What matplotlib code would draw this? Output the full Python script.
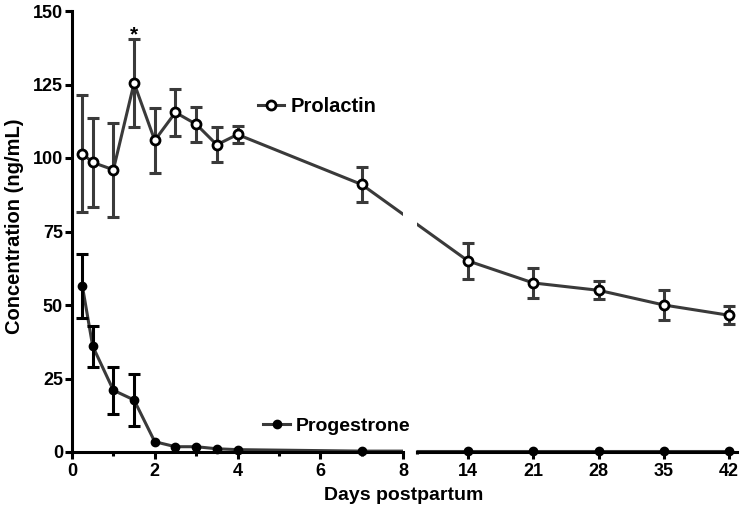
import matplotlib
matplotlib.use('Agg')
import matplotlib.pyplot as plt
from matplotlib.lines import Line2D
import numpy as np

plt.rcParams['font.family'] = ['Liberation Sans', 'DejaVu Sans']
plt.rcParams['font.weight'] = 'bold'

# ---- data ----
days = [0.25, 0.5, 1, 1.5, 2, 2.5, 3, 3.5, 4, 7, 14, 21, 28, 35, 42]
prolactin = [101.5, 98.5, 96, 125.5, 106, 115.5, 111.5, 104.5, 108, 91, 65, 57.5, 55, 50, 46.5]
prolactin_err = [20, 15, 16, 15, 11, 8, 6, 6, 3, 6, 6, 5, 3, 5, 3]
progesterone = [56.5, 36, 21, 17.7, 3.5, 1.8, 1.8, 1.1, 0.8, 0.3, 0.3, 0.3, 0.3, 0.3, 0.3]
progesterone_err = [11, 7, 8, 9, 0, 0, 0, 0, 0, 0, 0, 0, 0, 0, 0]
left_ticks = [0, 2, 4, 6, 8]
left_minor = [1, 3, 5, 7]
right_ticks = [14, 21, 28, 35, 42]
y_ticks = [0, 25, 50, 75, 100, 125, 150]

x = np.array(days, dtype=float)
prl = np.array(prolactin, dtype=float)
prl_e = np.array(prolactin_err, dtype=float)
prg = np.array(progesterone, dtype=float)
prg_e = np.array(progesterone_err, dtype=float)

W, H = 742, 509
fig = plt.figure(figsize=(W / 100, H / 100), dpi=100)
fig.patch.set_facecolor('white')

bottom = 1 - 452 / H
height = (452 - 11) / H
axL = fig.add_axes([72 / W, bottom, (403 - 72) / W, height])
axR = fig.add_axes([417 / W, bottom, (737 - 417) / W, height])
lims = {axL: (0, 8), axR: (8.53, 42.84)}
for ax, xl in lims.items():
    ax.set_xlim(*xl)
    ax.set_ylim(0, 150)

line_col = '#3a3a3a'
tick_fs = 13


def cross(ax_from, ax_to, xv, yv):
    """Map a data point of one axis into data coordinates of the other axis."""
    p = ax_from.transData.transform((xv, yv))
    return ax_to.transData.inverted().transform(p)


for ax, other in ((axL, axR), (axR, axL)):
    xlim = lims[ax]
    mask = (x >= xlim[0]) & (x <= xlim[1])
    # connecting lines drawn continuously across the axis break
    for yv in (prl, prg):
        xs = list(x[mask])
        ys = list(yv[mask])
        if ax is axL:
            i = np.where(~mask)[0][0]
            cx, cy = cross(other, ax, x[i], yv[i])
            xs.append(cx)
            ys.append(cy)
        else:
            i = np.where(~mask)[0][-1]
            cx, cy = cross(other, ax, x[i], yv[i])
            xs.insert(0, cx)
            ys.insert(0, cy)
        ax.plot(xs, ys, color=line_col, lw=2.2, zorder=2)
    # error bars
    ax.errorbar(x[mask], prl[mask], yerr=prl_e[mask], fmt='none', ecolor=line_col,
                elinewidth=2.2, capsize=4.5, capthick=2.2, zorder=3, clip_on=False)
    m2 = mask & (prg_e > 0)
    ax.errorbar(x[m2], prg[m2], yerr=prg_e[m2], fmt='none', ecolor='black',
                elinewidth=2.2, capsize=4.5, capthick=2.2, zorder=3, clip_on=False)
    # markers
    ax.plot(x[mask], prl[mask], ls='none', marker='o', ms=6.5, mfc='white', mec='black',
            mew=2, zorder=5, clip_on=False)
    ax.plot(x[mask], prg[mask], ls='none', marker='o', ms=6, mfc='black', mec='black',
            mew=1, zorder=5, clip_on=False)
    for s in ('top', 'right'):
        ax.spines[s].set_visible(False)
    ax.spines['bottom'].set_linewidth(2.2)
    ax.spines['left'].set_linewidth(2.2)
    ax.set_facecolor('none')
    ax.tick_params(axis='both', which='major', width=2.2, length=5, labelsize=tick_fs, pad=3)
    ax.tick_params(axis='x', which='minor', width=2.2, length=3)

axL.set_xticks(left_ticks)
axL.set_xticks(left_minor, minor=True)
axL.set_xticklabels([str(t) for t in left_ticks], fontweight='bold', fontsize=tick_fs)
axL.set_yticks(y_ticks)
axL.set_yticklabels([str(t) for t in y_ticks], fontweight='bold', fontsize=tick_fs)
axL.tick_params(axis='y', pad=1.5)

axR.spines['left'].set_visible(False)
axR.set_yticks([])
axR.set_xticks(right_ticks)
axR.set_xticklabels([str(t) for t in right_ticks], fontweight='bold', fontsize=tick_fs)
axR.set_xticks([lims[axR][0]], minor=True)
axR.tick_params(axis='x', which='minor', length=3, direction='inout', width=2.2)

# asterisk
axL.text(1.5, 140, '*', ha='center', va='baseline', fontsize=15, fontweight='bold')

# legends as separate entries
h_prl = Line2D([], [], color=line_col, lw=2.2, marker='o', ms=6.5, mfc='white', mec='black', mew=2)
h_prg = Line2D([], [], color=line_col, lw=2.2, marker='o', ms=6, mfc='black', mec='black')
fig.legend([h_prl], ['Prolactin'], loc='center left', bbox_to_anchor=(258 / W, 1 - 107 / H),
           bbox_transform=fig.transFigure, frameon=False, borderpad=0, borderaxespad=0,
           handlelength=1.3, handletextpad=0.3, prop={'weight': 'bold', 'size': 14.5})
fig.legend([h_prg], ['Progestrone'], loc='center left', bbox_to_anchor=(263 / W, 1 - 426 / H),
           bbox_transform=fig.transFigure, frameon=False, borderpad=0, borderaxespad=0,
           handlelength=1.4, handletextpad=0.3, prop={'weight': 'bold', 'size': 14})

fig.text(404 / W, 1 - 496 / H, 'Days postpartum', ha='center', va='center', fontsize=14, fontweight='bold')
fig.text(15 / W, 1 - 226 / H, 'Concentration (ng/mL)', ha='center', va='center', rotation=90,
         fontsize=14.5, fontweight='bold')

fig.savefig('out.png', dpi=100, facecolor='white')
